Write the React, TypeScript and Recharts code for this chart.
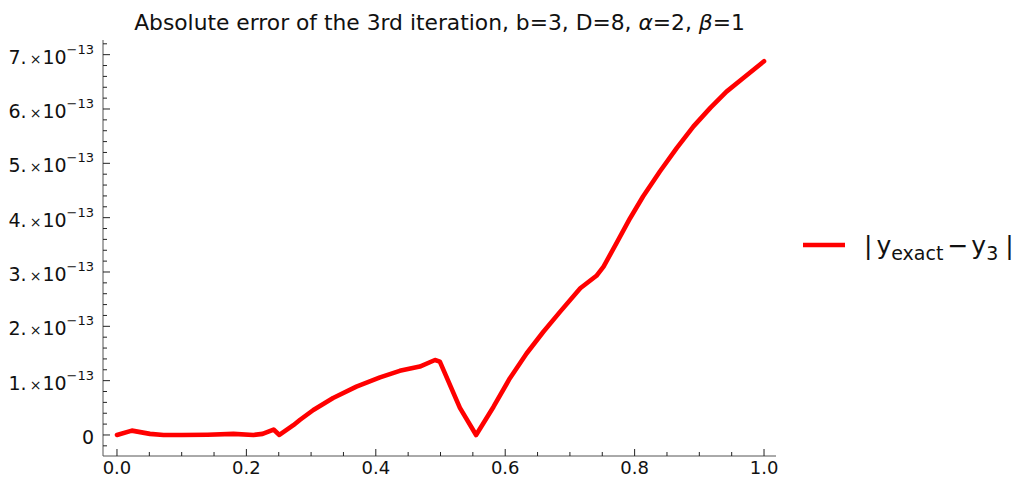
import { LineChart, Line, XAxis, YAxis, Legend } from 'recharts';

// Sample positions on [0, 1] and the absolute error there, in units of 1e-13
const xs = [
  0, 0.023, 0.051, 0.072, 0.1, 0.14, 0.18, 0.211, 0.225, 0.242, 0.251, 0.2726,
  0.283, 0.3035, 0.334, 0.37, 0.4065, 0.437, 0.468, 0.4915, 0.499, 0.53,
  0.555, 0.582, 0.607, 0.633, 0.659, 0.685, 0.716, 0.741, 0.752, 0.772,
  0.793, 0.813, 0.839, 0.865, 0.891, 0.917, 0.942, 0.968, 1.0,
];
const err = [
  0, 0.08, 0.02, 0, 0, 0.005, 0.02, 0, 0.02, 0.1, 0, 0.18,
  0.28, 0.46, 0.68, 0.89, 1.06, 1.18, 1.26, 1.38, 1.35, 0.5,
  0, 0.52, 1.04, 1.5, 1.9, 2.27, 2.7, 2.93, 3.1, 3.53,
  3.99, 4.39, 4.85, 5.28, 5.68, 6.02, 6.32, 6.57, 6.88,
];

const xTicks = Array.from({ length: 21 }, (_, i) => i * 0.05);
const yTicks = Array.from({ length: 38 }, (_, i) => -0.2 + i * 0.2);

const data = xs.map((x, i) => ({ x, v: err[i] }));

const FONT = "'DejaVu Sans', sans-serif";
const FRAME = '#555';
const TICK = '#222';

const isMajor = (v: number, step: number) => Math.abs(v / step - Math.round(v / step)) < 1e-6;

const BottomTick = ({ x, y, payload }: any) => {
  const major = isMajor(payload.value, 0.2);
  return (
    <g>
      <line x1={x} x2={x} y1={y} y2={y - (major ? 7 : 4)} stroke={TICK} />
      {major && (
        <text x={x} y={y + 18} textAnchor="middle" fontFamily={FONT} fontSize={18} fill="#111">
          {payload.value.toFixed(1)}
        </text>
      )}
    </g>
  );
};

const TopTick = ({ x, y, payload }: any) => {
  const major = isMajor(payload.value, 0.2);
  return <line x1={x} x2={x} y1={y} y2={y + (major ? 7 : 4)} stroke={TICK} />;
};

const LeftTick = ({ x, y, payload }: any) => {
  const v = Math.round(payload.value * 10) / 10;
  const major = isMajor(v, 1);
  return (
    <g>
      <line x1={x} x2={x + (major ? 7 : 4)} y1={y} y2={y} stroke={TICK} />
      {major && (
        <text x={x - 9} y={y + 9} textAnchor="end" fontFamily={FONT} fontSize={19} fill="#111">
          {v === 0 ? (
            '0'
          ) : (
            <>
              {`${v}.`}
              <tspan fontSize={14} dx={3}>×</tspan>
              <tspan dx={1}>10</tspan>
              <tspan fontSize={13} dy={-10}>−13</tspan>
            </>
          )}
        </text>
      )}
    </g>
  );
};

const RightTick = ({ x, y, payload }: any) => {
  const v = Math.round(payload.value * 10) / 10;
  const major = isMajor(v, 1);
  return <line x1={x} x2={x - (major ? 7 : 4)} y1={y} y2={y} stroke={TICK} />;
};

// Legend drawn as a small svg: red swatch then |y_exact - y_3|
const LegendBox = () => (
  <svg width={218} height={40} style={{ display: 'block' }}>
    <line x1={0} x2={42} y1={17} y2={17} stroke="#ff0000" strokeWidth={4.5} />
    <text x={61} y={26} fontFamily={FONT} fontSize={25} fill="#111">
      |<tspan dx={4}>y</tspan>
      <tspan fontSize={19} dy={6}>exact</tspan>
      <tspan dy={-6} dx={4}>−</tspan>
      <tspan dx={3}>y</tspan>
      <tspan fontSize={19} dy={6}>3</tspan>
      <tspan dy={-6} dx={7}>|</tspan>
    </text>
  </svg>
);

export default function App() {
  return (
    <div style={{ position: 'absolute', left: 0, top: 0, width: 1021, height: 487, background: '#fff' }}>
      <LineChart width={1021} height={487} data={data} margin={{ top: 40, right: 245, bottom: 0, left: 0 }}>
        <text x={439.5} y={30} textAnchor="middle" fontFamily={FONT} fontSize={21.8} fill="#111">
          Absolute error of the 3rd iteration, b=3, D=8, <tspan fontStyle="italic">α</tspan>=2,{' '}
          <tspan fontStyle="italic">β</tspan>=1
        </text>
        <XAxis
          xAxisId="b"
          type="number"
          dataKey="x"
          domain={[-0.0216, 1.0185]}
          ticks={xTicks}
          interval={0}
          height={31}
          tickSize={0}
          tickMargin={0}
          tickLine={false}
          axisLine={{ stroke: FRAME }}
          tick={BottomTick}
          allowDataOverflow
        />
        <XAxis
          xAxisId="t"
          orientation="top"
          type="number"
          dataKey="x"
          domain={[-0.0216, 1.0185]}
          ticks={xTicks}
          interval={0}
          height={0}
          tickSize={0}
          tickMargin={0}
          tickLine={false}
          axisLine={{ stroke: FRAME }}
          tick={TopTick}
          allowDataOverflow
        />
        <YAxis
          yAxisId="l"
          type="number"
          domain={[-0.387, 7.27]}
          ticks={yTicks}
          interval={0}
          width={103}
          tickSize={0}
          tickMargin={0}
          tickLine={false}
          axisLine={{ stroke: FRAME }}
          tick={LeftTick}
          allowDataOverflow
        />
        <YAxis
          yAxisId="r"
          orientation="right"
          type="number"
          domain={[-0.387, 7.27]}
          ticks={yTicks}
          interval={0}
          width={0}
          tickSize={0}
          tickMargin={0}
          tickLine={false}
          axisLine={{ stroke: FRAME }}
          tick={RightTick}
          allowDataOverflow
        />
        <Legend
          layout="vertical"
          align="center"
          verticalAlign="middle"
          wrapperStyle={{ left: 803, top: 228, width: 218 }}
          content={LegendBox}
        />
        <Line
          xAxisId="b"
          yAxisId="l"
          dataKey="v"
          type="linear"
          stroke="#ff0000"
          strokeWidth={4.6}
          strokeLinejoin="round"
          strokeLinecap="round"
          dot={false}
          isAnimationActive={false}
        />
      </LineChart>
    </div>
  );
}
